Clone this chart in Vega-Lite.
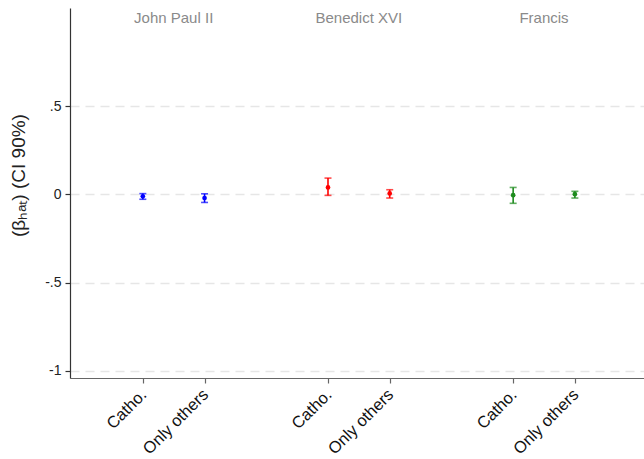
{
  "$schema": "https://vega.github.io/schema/vega-lite/v6.json",
  "width": 574,
  "height": 370,
  "autosize": "none",
  "padding": {"left": 70, "top": 8, "right": 0, "bottom": 81},
  "background": "white",
  "config": {"view": {"stroke": null}, "font": "Liberation Sans"},
  "data": {
    "values": [
      {"pope": "John Paul II", "group": "Catho.", "pos": 1, "beta": -0.01, "lo": -0.027, "hi": 0.005},
      {"pope": "John Paul II", "group": "Only others", "pos": 2, "beta": -0.02, "lo": -0.045, "hi": 0.004},
      {"pope": "Benedict XVI", "group": "Catho.", "pos": 4, "beta": 0.04, "lo": -0.005, "hi": 0.093},
      {"pope": "Benedict XVI", "group": "Only others", "pos": 5, "beta": 0.006, "lo": -0.02, "hi": 0.027},
      {"pope": "Francis", "group": "Catho.", "pos": 7, "beta": -0.004, "lo": -0.05, "hi": 0.04},
      {"pope": "Francis", "group": "Only others", "pos": 8, "beta": 0.002, "lo": -0.02, "hi": 0.018}
    ]
  },
  "encoding": {
    "x": {
      "field": "pos", "type": "quantitative",
      "scale": {"domain": [-0.18, 9.12], "nice": false, "zero": false},
      "axis": {
        "values": [1, 2, 4, 5, 7, 8],
        "labelExpr": "datum.value % 3 == 1 ? 'Catho.' : 'Only others'",
        "labelAngle": -45, "labelFontSize": 16.5, "labelColor": "#111",
        "labelAlign": "right", "labelBaseline": "top",
        "labelPadding": 3, "labelOffset": -5, "labelOverlap": false, "labelBound": false,
        "title": null, "grid": false,
        "domainColor": "#666", "domainWidth": 1.2,
        "tickColor": "#666", "tickSize": 5, "tickWidth": 1.2
      }
    },
    "color": {
      "field": "pope", "type": "nominal",
      "scale": {"domain": ["John Paul II", "Benedict XVI", "Francis"], "range": ["#0000ff", "#ff0000", "#1e8c1e"]},
      "legend": null
    }
  },
  "layer": [
    {
      "mark": {"type": "rule", "strokeWidth": 1.6},
      "encoding": {
        "y": {
          "field": "lo", "type": "quantitative",
          "scale": {"domain": [-1.04, 1.057], "nice": false, "zero": false},
          "axis": {
            "values": [-1, -0.5, 0, 0.5],
            "labelExpr": "datum.value == 0 ? '0' : datum.value == 0.5 ? '.5' : datum.value == -0.5 ? '-.5' : '-1'",
            "labelFontSize": 14, "labelColor": "#222", "labelPadding": 4,
            "title": "(βₕₐₜ) (CI 90%)", "titleFontSize": 19, "titleFontWeight": "normal",
            "titleColor": "#222", "titlePadding": 16, "titleY": 167,
            "grid": true, "gridColor": "#e6e6e6", "gridDash": [9, 6], "gridWidth": 1.5,
            "domainColor": "#333", "domainWidth": 1.2,
            "tickColor": "#333", "tickSize": 5, "tickWidth": 1.2
          }
        },
        "y2": {"field": "hi"}
      }
    },
    {
      "mark": {"type": "tick", "orient": "horizontal", "size": 7, "thickness": 1.6},
      "encoding": {"y": {"field": "lo", "type": "quantitative"}}
    },
    {
      "mark": {"type": "tick", "orient": "horizontal", "size": 7, "thickness": 1.6},
      "encoding": {"y": {"field": "hi", "type": "quantitative"}}
    },
    {
      "mark": {"type": "point", "shape": "circle", "filled": true, "opacity": 1, "size": 22},
      "encoding": {"y": {"field": "beta", "type": "quantitative"}}
    },
    {
      "mark": {"type": "text", "fontSize": 15, "color": "#8a8a8a", "baseline": "middle"},
      "encoding": {
        "x": {"aggregate": "mean", "field": "pos", "type": "quantitative"},
        "y": {"datum": 1.0},
        "text": {"field": "pope"},
        "detail": {"field": "pope"},
        "color": {"value": "#8a8a8a"}
      }
    }
  ]
}
